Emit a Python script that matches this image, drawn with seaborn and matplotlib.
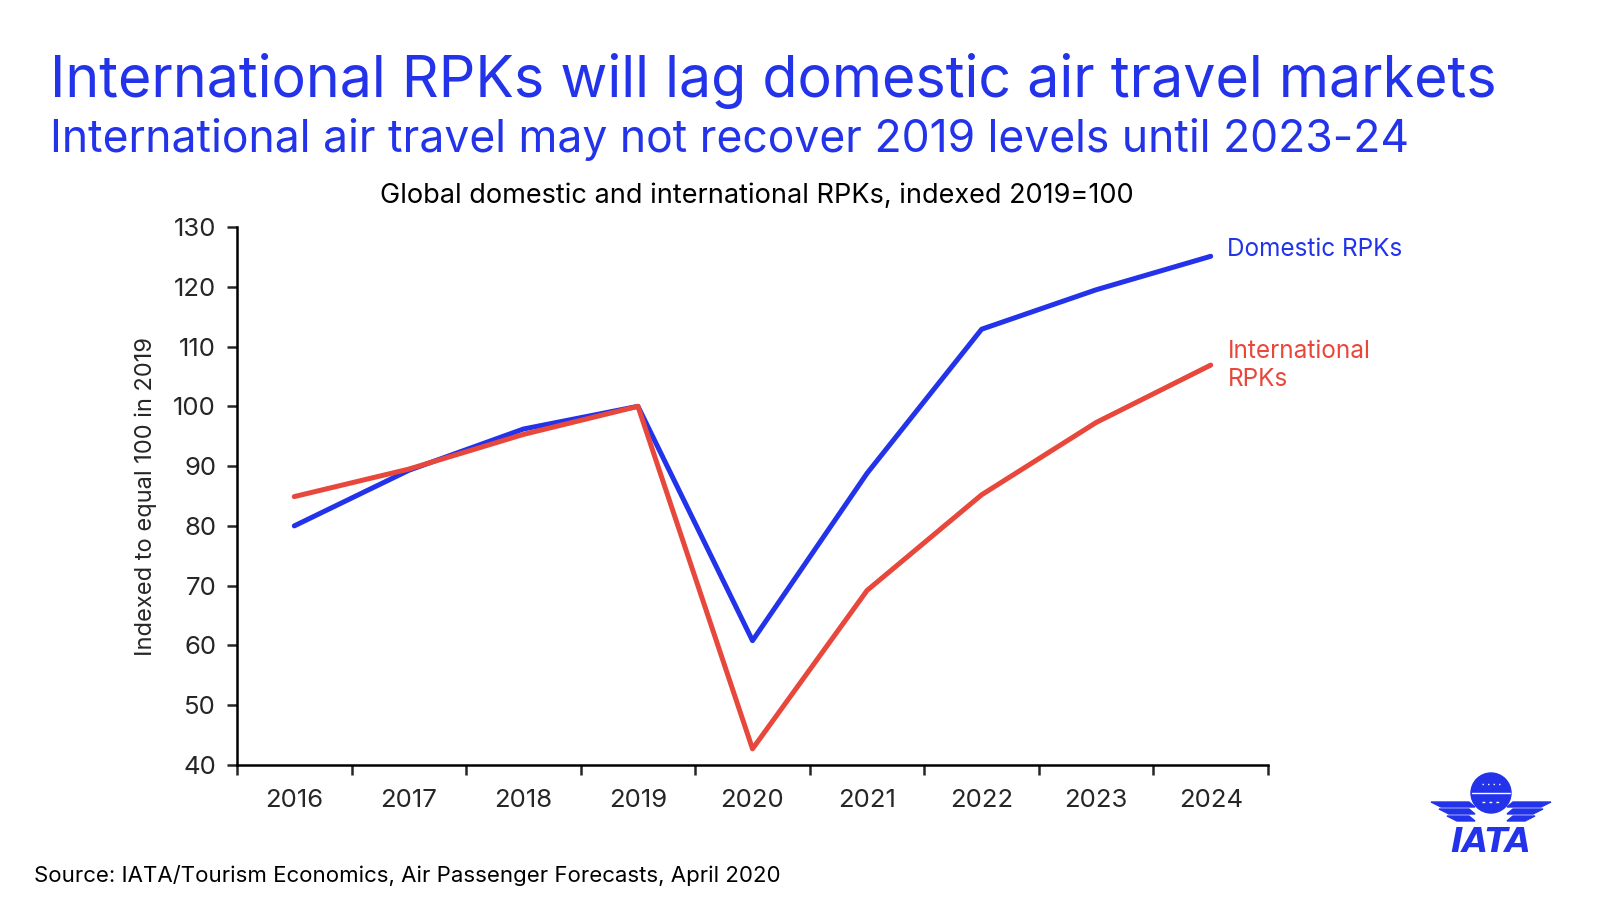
import pandas as pd
import seaborn as sns
import matplotlib.pyplot as plt
from matplotlib.patches import Circle, Polygon

# Values (index, 2019 = 100)
years = [2016, 2017, 2018, 2019, 2020, 2021, 2022, 2023, 2024]
domestic = [80.0, 89.3, 96.2, 100.0, 60.8, 88.8, 112.9, 119.5, 125.1]
international = [84.9, 89.5, 95.3, 100.0, 42.7, 69.2, 85.2, 97.3, 106.9]
series_names = ['Domestic RPKs', 'International RPKs']
y_ticks = [40, 50, 60, 70, 80, 90, 100, 110, 120, 130]

BLUE = '#2233EA'
RED = '#E8473B'

data = pd.DataFrame({
    'year': years * 2,
    'index': domestic + international,
    'series': [series_names[0]] * len(years) + [series_names[1]] * len(years),
})

sns.set_style('white')
plt.rcParams['font.family'] = ['Inter', 'DejaVu Sans']

fig = plt.figure(figsize=(16, 9), dpi=100)
W, H = 1600, 900
ax = fig.add_axes([237 / W, 1 - 765 / H, (1268 - 237) / W, (765 - 227) / H])

sns.lineplot(data=data, x='year', y='index', hue='series',
             palette={series_names[0]: BLUE, series_names[1]: RED},
             linewidth=3.6, legend=False, ax=ax)

ax.set_xlim(years[0] - 0.5, years[-1] + 0.5)
ax.set_ylim(y_ticks[0], y_ticks[-1])
ax.set_yticks(y_ticks)
ax.set_xticks(years)
ax.set_xticklabels([str(y) for y in years])
ax.set_xticks([y + 0.5 for y in [years[0] - 1] + years], minor=True)
ax.tick_params(axis='x', which='major', length=0, pad=17, labelsize=18.5)
ax.tick_params(axis='x', which='minor', length=7, width=1.8, direction='out', bottom=True)
ax.tick_params(axis='y', length=7, width=1.8, direction='out', left=True, labelsize=18.5, pad=8)
for side in ['top', 'right']:
    ax.spines[side].set_visible(False)
for side in ['left', 'bottom']:
    ax.spines[side].set_linewidth(1.8)
    ax.spines[side].set_color('black')

ax.set_xlabel('')
ax.set_ylabel('Indexed to equal 100 in 2019', fontsize=17)
ax.yaxis.set_label_coords(-0.078, 0.5)

# Series labels at the line ends
ax.annotate('Domestic RPKs', xy=(years[-1], domestic[-1]), xytext=(12, 5),
            textcoords='offset points', color=BLUE, fontsize=17.5, va='center')
ax.annotate('International\nRPKs', xy=(years[-1], international[-1]), xytext=(12, 0),
            textcoords='offset points', color=RED, fontsize=17.5, va='center',
            linespacing=1.28)

# Titles
fig.text(50 / W, 1 - 97 / H, 'International RPKs will lag domestic air travel markets',
         color=BLUE, fontsize=41.3, va='baseline', ha='left')
fig.text(50 / W, 1 - 152 / H, 'International air travel may not recover 2019 levels until 2023-24',
         color=BLUE, fontsize=32, va='baseline', ha='left')
fig.text(757 / W, 1 - 203 / H, 'Global domestic and international RPKs, indexed 2019=100',
         color='black', fontsize=19.5, va='baseline', ha='center')
fig.text(34 / W, 1 - 882 / H, 'Source: IATA/Tourism Economics, Air Passenger Forecasts, April 2020',
         color='black', fontsize=16, va='baseline', ha='left')

# Simple IATA logo
lx0, lx1, ly0, ly1 = 1420, 1560, 765, 860
lax = fig.add_axes([lx0 / W, 1 - ly1 / H, (lx1 - lx0) / W, (ly1 - ly0) / H])
lax.set_xlim(lx0, lx1)
lax.set_ylim(ly1, ly0)
lax.axis('off')
lax.add_patch(Circle((1491, 793), 20, color=BLUE))
lax.plot([1472, 1510], [793, 793], color='white', lw=1)
lax.plot([1482, 1500], [784, 784], color='white', lw=1, ls=(0, (1, 3)))
lax.plot([1482, 1500], [802, 802], color='white', lw=1, ls=(0, (2, 3)))
for sgn in (-1, 1):
    for k, (x_out, y_top) in enumerate([(60, 802), (52, 809), (44, 816)]):
        pts = [(1491 + sgn * x_out, y_top),
               (1491 + sgn * 22, y_top),
               (1491 + sgn * 16, y_top + 5),
               (1491 + sgn * (x_out - 10), y_top + 5)]
        lax.add_patch(Polygon(pts, closed=True, color=BLUE))
lax.text(1491, 842, 'IATA', color=BLUE, fontsize=24, fontweight='heavy',
         fontstyle='italic', family='DejaVu Sans', ha='center', va='center')

fig.savefig('out.png', dpi=100, facecolor='white')
